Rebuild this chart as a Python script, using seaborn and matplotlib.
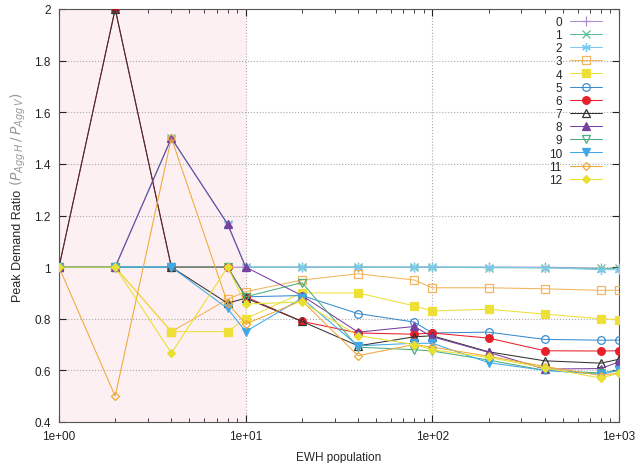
import matplotlib
matplotlib.use("Agg")
import matplotlib.pyplot as plt
import matplotlib.ticker as mticker
import numpy as np
import pandas as pd
import seaborn as sns

# EWH population (x) and peak demand ratio per series
population = [1, 2, 4, 8, 10, 20, 40, 80, 100, 200, 400, 800, 1000]

s0 = [1, 1, 1, 1, 1.0, 1.0, 1.0, 1.0, 1.0, 1.0, 1.0, 0.995, 0.995]
s1 = [1, 1, 1.5, 1.167, 1.0, 1.0, 1.0, 1.0, 1.0, 0.998, 0.997, 0.995, 0.995]
s2 = [1, 1, 1.5, 1.167, 1.0, 1.0, 1.0, 1.0, 1.0, 1.0, 0.998, 0.99, 0.99]
s3 = [1, 1, 0.75, 0.875, 0.905, 0.95, 0.974, 0.95, 0.92, 0.92, 0.916, 0.91, 0.91]
s4 = [1, 1, 0.75, 0.75, 0.80, 0.90, 0.90, 0.85, 0.83, 0.837, 0.818, 0.80, 0.796]
s5 = [1, 1, 1, 1, 0.885, 0.89, 0.82, 0.787, 0.745, 0.748, 0.72, 0.717, 0.717]
s6 = [1, 2, 1, 1, 0.885, 0.79, 0.745, 0.74, 0.745, 0.725, 0.676, 0.675, 0.676]
s7 = [1, 2, 1, 0.86, 0.88, 0.79, 0.695, 0.73, 0.734, 0.672, 0.637, 0.628, 0.643]
s8 = [1, 1, 1.5, 1.167, 1.0, 0.89, 0.748, 0.77, 0.73, 0.67, 0.605, 0.607, 0.633]
s9 = [1, 1, 1, 1, 0.885, 0.94, 0.69, 0.68, 0.675, 0.64, 0.60, 0.59, 0.60]
s10 = [1, 1, 1, 0.84, 0.75, 0.88, 0.695, 0.705, 0.705, 0.63, 0.60, 0.585, 0.60]
s11 = [1, 0.5, 1.5, 0.86, 0.78, 0.87, 0.657, 0.70, 0.69, 0.655, 0.615, 0.58, 0.59]
s12 = [1, 1, 0.667, 1.0, 0.857, 0.865, 0.735, 0.70, 0.68, 0.65, 0.61, 0.57, 0.59]

series = [s0, s1, s2, s3, s4, s5, s6, s7, s8, s9, s10, s11, s12]
labels = [str(i) for i in range(13)]

colors = ["#b08ccc", "#5cbf98", "#7ec8ee", "#f2b45c", "#eee038", "#3a8ccc",
          "#e8202a", "#333333", "#7840a0", "#4cae7c", "#40a8e8", "#f0a838", "#e8e030"]
markers = ["+", "x", (6, 2, 0), "s", "s", "o", "o", "^", "^", "v", "v", "D", "D"]
filled = [True, True, True, False, True, False, True, False, True, False, True, False, True]
msizes = [6.5, 5.5, 6.5, 5.5, 5.5, 5.5, 5.5, 6.2, 6.2, 6.2, 6.2, 4.2, 4.2]

sns.set_style("ticks")
plt.rcParams['font.family'] = ['Liberation Sans', 'DejaVu Sans']

fig = plt.figure(figsize=(6.35, 4.64), dpi=100)
ax = fig.add_axes([59/635, 1-423/464, (619-59)/635, (423-10)/464])

ax.axvspan(1, 10, color="#fdf0f2", zorder=0, lw=0)

for i, vals in enumerate(series):
    df = pd.DataFrame({"x": population, "y": vals})
    c = colors[i]
    sns.lineplot(data=df, x="x", y="y", ax=ax, color=c, lw=0.75, errorbar=None,
                 marker=markers[i], markersize=msizes[i],
                 markerfacecolor=c if filled[i] else "none",
                 markeredgecolor=c, markeredgewidth=0.9, label=labels[i],
                 zorder=3)

ax.set_xscale("log")
ax.set_xlim(1, 1000)
ax.set_ylim(0.4, 2)
ax.set_yticks(np.arange(0.4, 2.01, 0.2))
ax.yaxis.set_major_formatter(mticker.FuncFormatter(lambda v, p: f"{v:g}"))
ax.xaxis.set_major_locator(mticker.FixedLocator([1, 10, 100, 1000]))
ax.xaxis.set_major_formatter(mticker.FuncFormatter(lambda v, p: f"{v:.0e}"))
ax.grid(True, which="major", linestyle=":", color="#aaaaaa", lw=0.8)
ax.tick_params(direction="in", which="both", top=True, right=True,
               labelsize=8.5, colors="#222222", pad=6)
ax.tick_params(which="major", length=5, width=0.8)
ax.tick_params(which="minor", length=3, width=0.6)
for sp in ax.spines.values():
    sp.set_color("#555555")
    sp.set_linewidth(0.8)

ax.set_xlabel("EWH population", fontsize=8.5, labelpad=6)
ax.set_ylabel("")
fig.text(18/635, 1-190/464, "Peak Demand Ratio", rotation=90, ha="center", va="top",
         fontsize=9)
fig.text(18/635, 1-186/464, r"$(P_{Agg\,H}\,/\,P_{Agg\,V})$", rotation=90, ha="center",
         va="bottom", fontsize=10, color="#999999")

leg = ax.legend(loc="upper right", frameon=False, markerfirst=False, fontsize=8.5,
                handlelength=2.7, labelspacing=0.1, borderaxespad=0.0,
                handletextpad=0.7, bbox_to_anchor=(0.978, 0.995))

fig.savefig("out.png", dpi=100)
